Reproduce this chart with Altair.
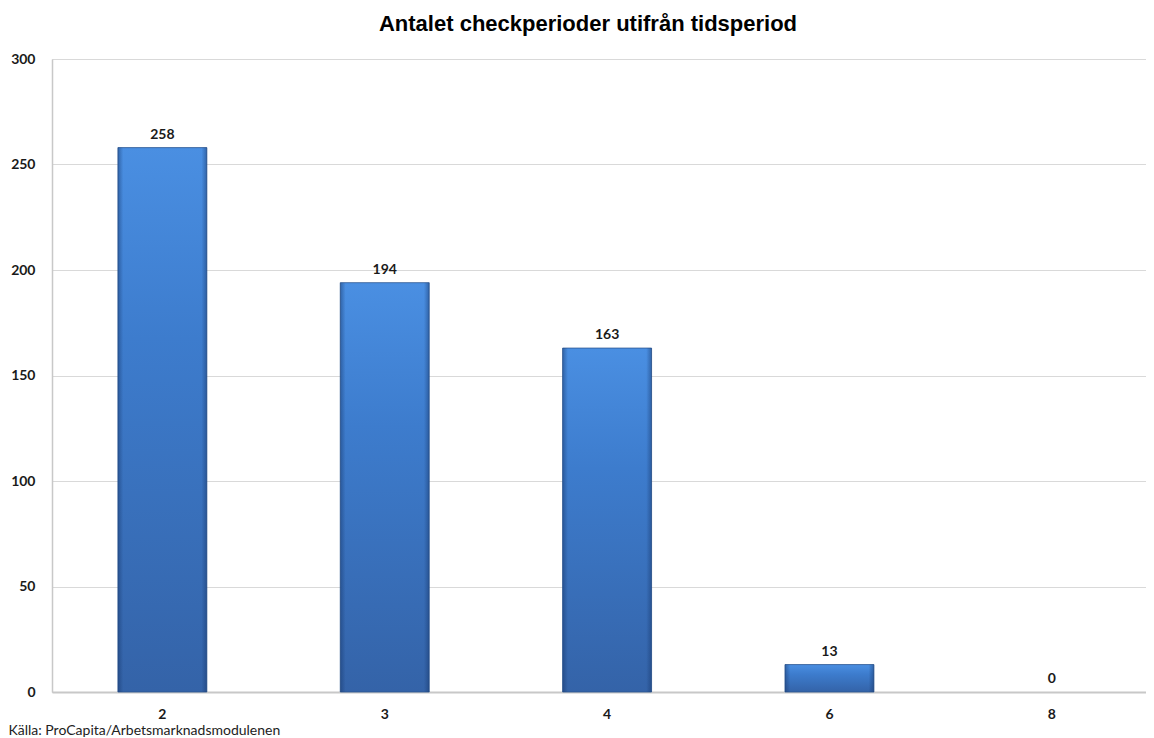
import altair as alt
import pandas as pd

categories = ["2", "3", "4", "6", "8"]
values = [258, 194, 163, 13, 0]

title_text = "Antalet checkperioder utifrån tidsperiod"
source_text = "Källa: ProCapita/Arbetsmarknadsmodulenen"
y_ticks = [0, 50, 100, 150, 200, 250, 300]

df = pd.DataFrame({"period": categories, "antal": values})

x_enc = alt.X(
    "period:N",
    sort=categories,
    scale=alt.Scale(paddingInner=0.6, paddingOuter=0.26, align=0.57),
    axis=alt.Axis(
        title=source_text,
        titleAnchor="start",
        titleAlign="left",
        titleBaseline="alphabetic",
        titleX=-44,
        titleY=42,
        titleFont="Lato",
        titleFontSize=14,
        titleFontWeight="normal",
        titleColor="#222222",
        labelAngle=0,
        labelFont="Lato",
        labelFontSize=14,
        labelFontWeight="bold",
        labelColor="#1a1a1a",
        labelPadding=15,
        ticks=False,
        domainColor="#c8c8c8",
        domainWidth=2,
        grid=False,
    ),
)

y_enc = alt.Y(
    "antal:Q",
    scale=alt.Scale(domain=[0, 300], nice=False),
    axis=alt.Axis(
        title=None,
        values=y_ticks,
        labelFont="Lato",
        labelFontSize=14,
        labelFontWeight="bold",
        labelColor="#1a1a1a",
        labelPadding=17,
        ticks=False,
        domainColor="#c8c8c8",
        domainWidth=1.5,
        gridColor="#d9d9d9",
        gridWidth=1,
    ),
)

base = alt.Chart(df).encode(x=x_enc, y=y_enc)

bars = base.transform_filter("datum.antal > 0").mark_bar(
    color=alt.Gradient(
        gradient="linear",
        stops=[
            alt.GradientStop(color="#4a8fe2", offset=0),
            alt.GradientStop(color="#3d7ccd", offset=0.35),
            alt.GradientStop(color="#3463a8", offset=1),
        ],
        x1=0, x2=0, y1=0, y2=1,
    ),
    stroke="#2b5590",
    strokeWidth=0.8,
)

bevel = base.transform_filter("datum.antal > 0").mark_bar(
    color=alt.Gradient(
        gradient="linear",
        stops=[
            alt.GradientStop(color="rgba(20,50,100,0.45)", offset=0),
            alt.GradientStop(color="rgba(20,50,100,0)", offset=0.06),
            alt.GradientStop(color="rgba(20,50,100,0)", offset=0.94),
            alt.GradientStop(color="rgba(20,50,100,0.45)", offset=1),
        ],
        x1=0, x2=1, y1=0, y2=0,
    ),
)

labels = base.mark_text(
    baseline="alphabetic",
    dy=-9,
    font="Lato",
    fontSize=14,
    fontWeight="bold",
    color="#1a1a1a",
).encode(text="antal:Q")

chart = (
    alt.layer(bars, bevel, labels)
    .properties(
        width=1094,
        height=633,
        padding={"left": 0, "top": 5, "right": 0, "bottom": 0},
        title=alt.TitleParams(
            text=title_text,
            font="Liberation Sans",
            fontSize=22,
            fontWeight="bold",
            color="#000000",
            anchor="middle",
            dx=-11,
            offset=16,
        ),
    )
    .configure_view(stroke=None)
    .configure(background="white")
)

chart.save("out.html", embed_options={"renderer": "svg", "actions": False})
